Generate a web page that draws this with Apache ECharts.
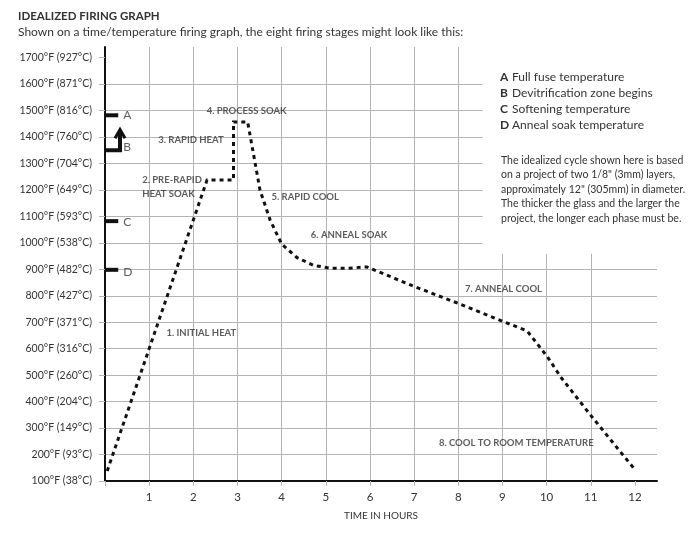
<!DOCTYPE html>
<html><head><meta charset="utf-8">
<script src="https://cdn.jsdelivr.net/npm/echarts@6/dist/echarts.min.js"></script>
<style>html,body{margin:0;padding:0;background:#fff}#c{width:700px;height:538px}</style>
</head><body><div id="c"></div>
<script>
// ---- data ----
const hours  = [0.05, 2.31, 2.91, 2.91, 3.23, 3.36, 3.51, 3.74, 4.0, 4.35, 4.72, 5.1, 5.5, 5.93, 6.99, 8.0, 9.0, 9.56, 10.02, 10.32, 11.0, 11.98];
const tempsF = [138, 1237, 1237, 1457, 1457, 1338, 1199, 1086, 995, 944, 915, 904, 904, 909, 836, 771, 704, 667, 569, 493, 348, 147];

const yTicksF = [100,200,300,400,500,600,700,800,900,1000,1100,1200,1300,1400,1500,1600,1700];
const yTicksC = [38,93,149,204,260,316,371,427,482,538,593,649,704,760,816,871,927];
const xTicks  = [0,1,2,3,4,5,6,7,8,9,10,11,12];
const xLabels = [1,2,3,4,5,6,7,8,9,10,11,12];

const markerA = [[0,1482],[0.3,1482]];
const markerB = [[0,1350],[0.34,1350],[0.34,1420]];
const arrowB  = [[0.227,1395],[0.34,1428],[0.454,1395]];
const markerC = [[0,1082],[0.3,1082]];
const markerD = [[0,898],[0.3,898]];
const markerLetters = [[0.4,1482,'A'],[0.4,1360,'B'],[0.4,1078,'C'],[0.4,890,'D']];

const stageLabels = [
  [1.38, 660, '1. INITIAL HEAT'],
  [0.83, 1237, '2. PRE-RAPID'],
  [0.83, 1184, 'HEAT SOAK'],
  [1.195, 1388, '3. RAPID HEAT'],
  [2.29, 1499, '4. PROCESS SOAK'],
  [3.76, 1173, '5. RAPID COOL'],
  [4.65, 1029, '6. ANNEAL SOAK'],
  [8.14, 827, '7. ANNEAL COOL'],
  [7.55, 244, '8. COOL TO ROOM TEMPERATURE']
];

const legendLetters = ['A','B','C','D'];
const legendTexts = ['Full fuse temperature','Devitrification zone begins','Softening temperature','Anneal soak temperature'];
const noteLines = [
  'The idealized cycle shown here is based',
  'on a project of two 1/8" (3mm) layers,',
  'approximately 12" (305mm) in diameter.',
  'The thicker the glass and the larger the',
  'project, the longer each phase must be.'
];
const titleText = 'IDEALIZED FIRING GRAPH';
const subtitleText = 'Shown on a time/temperature firing graph, the eight firing stages might look like this:';
const xName = 'TIME IN HOURS';

// ---- chart ----
const FONT = 'Lato';
const TXT = '#333';
const GRID = '#b4b4b4';
const curve = hours.map((h,i)=>[h,tempsF[i]]);

function solid(data, w){
  return {type:'line', data:data, symbol:'none', silent:true, z:5,
    lineStyle:{color:'#111', width:w, type:'solid', join:'miter', cap:'butt'}};
}

const chart = echarts.init(document.getElementById('c'), null, {renderer:'canvas'});
chart.setOption({
  animation:false,
  backgroundColor:'#fff',
  grid:{left:105, right:43, top:47, bottom:57},
  xAxis:{
    type:'value', min:0, max:12.5, interval:1,
    name:xName, nameLocation:'middle', nameGap:30,
    nameTextStyle:{fontFamily:FONT, fontSize:10, color:TXT},
    axisLine:{show:true, onZero:false, lineStyle:{color:'#111', width:2}},
    axisTick:{show:true, length:5, customValues:xTicks, lineStyle:{color:GRID}},
    axisLabel:{show:true, margin:10, customValues:xLabels, fontFamily:FONT, fontSize:11.5, color:TXT},
    splitLine:{show:true, showMaxLine:false, showMinLine:false, lineStyle:{color:GRID, width:1}}
  },
  yAxis:{
    type:'value', min:100, max:1740, interval:100,
    axisLine:{show:true, onZero:false, lineStyle:{color:'#111', width:2}},
    axisTick:{show:true, length:6, customValues:yTicksF, lineStyle:{color:GRID}},
    axisLabel:{show:true, margin:13, customValues:yTicksF, fontFamily:FONT, fontSize:10.5, color:TXT,
      formatter:function(v){const i=yTicksF.indexOf(v); return i<0?'':v+'°F ('+yTicksC[i]+'°C)';}},
    splitLine:{show:true, showMaxLine:false, showMinLine:false, lineStyle:{color:GRID, width:1}}
  },
  series:[
    Object.assign(solid(markerA,4), {
      markArea:{silent:true, itemStyle:{color:'#ffffff', opacity:1}, data:[[{coord:[8.55,1740]},{coord:[12.5,959]}]]}
    }),
    solid(markerB,4),
    solid(arrowB,3),
    solid(markerC,4),
    solid(markerD,4),
    {type:'line', data:curve, symbol:'none', silent:true, z:6,
      lineStyle:{color:'#111', width:3, type:[4,4], cap:'butt', join:'miter'}},
    {type:'scatter', data:markerLetters, symbolSize:1, itemStyle:{color:'rgba(0,0,0,0)'}, silent:true, z:7,
      label:{show:true, position:'right', distance:0, formatter:p=>p.data[2],
        fontFamily:FONT, fontSize:12, color:TXT}},
    {type:'scatter', data:stageLabels, symbolSize:1, itemStyle:{color:'rgba(0,0,0,0)'}, silent:true, z:7,
      label:{show:true, position:'right', distance:0, formatter:p=>p.data[2],
        fontFamily:FONT, fontSize:9.5, fontWeight:'bold', color:TXT}}
  ],
  graphic:[
    {type:'text', z:100, x:18, y:10, style:{text:titleText, font:'bold 11.5px '+FONT, fill:TXT}},
    {type:'text', z:100, x:18, y:26, style:{text:subtitleText, font:'12px '+FONT, fill:TXT}},
    {type:'text', z:100, x:500, y:69, style:{text:legendLetters.join('\n'), font:'bold 12px '+FONT, fill:TXT, lineHeight:16}},
    {type:'text', z:100, x:512, y:69, style:{text:legendTexts.join('\n'), font:'12px '+FONT, fill:TXT, lineHeight:16}},
    {type:'text', z:100, x:501, y:153, style:{text:noteLines.join('\n'), font:'10.5px '+FONT, fill:TXT, lineHeight:14.5}}
  ]
});
</script></body></html>
